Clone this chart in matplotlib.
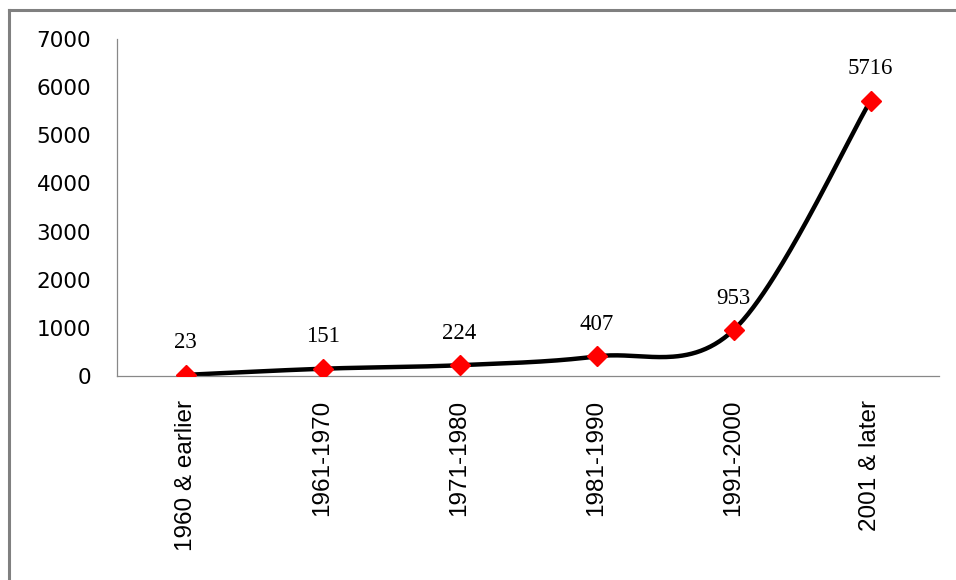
import numpy as np
import matplotlib
matplotlib.use("Agg")
import matplotlib.pyplot as plt
from matplotlib.lines import Line2D

categories = ["1960 & earlier", "1961-1970", "1971-1980", "1981-1990", "1991-2000", "2001 & later"]
values = [23, 151, 224, 407, 953, 5716]
yticks = [0, 1000, 2000, 3000, 4000, 5000, 6000, 7000]


def smooth_curve(xs, ys, n=60):
    pts = np.column_stack([xs, ys]).astype(float)
    out = []
    for i in range(len(pts) - 1):
        p0 = pts[max(i - 1, 0)]
        p1 = pts[i]
        p2 = pts[i + 1]
        p3 = pts[min(i + 2, len(pts) - 1)]
        c1 = p1 + (p2 - p0) / 6.0
        c2 = p2 - (p3 - p1) / 6.0
        t = np.linspace(0, 1, n)[:, None]
        seg = (1 - t) ** 3 * p1 + 3 * (1 - t) ** 2 * t * c1 + 3 * (1 - t) * t ** 2 * c2 + t ** 3 * p2
        out.append(seg if i == 0 else seg[1:])
    return np.vstack(out)


fig = plt.figure(figsize=(9.56, 5.8), dpi=100)
ax = fig.add_axes([117 / 956, 204 / 580, 822 / 956, 337 / 580])

x = np.arange(len(values))
curve = smooth_curve(x, values)
ax.plot(curve[:, 0], curve[:, 1], color="black", lw=3.2, solid_capstyle="round", zorder=2)
ax.plot(x, values, linestyle="none", marker="D", markersize=10.5, color="#ff0000",
        markeredgecolor="#ff0000", zorder=3)

for xi, v in zip(x, values):
    ax.annotate(str(v), (xi, v), xytext=(0, 23), textcoords="offset points",
                ha="center", va="center", family="Liberation Serif", fontsize=16.5)

ax.set_xlim(-0.5, len(values) - 0.5)
ax.set_ylim(0, 7000)
ax.set_yticks(yticks)
ax.set_yticklabels([str(t) for t in yticks], family="DejaVu Sans", fontsize=15.5)
ax.set_xticks(x)
ax.set_xticklabels(categories, rotation=90, family="Liberation Sans", fontsize=17.5,
                   va="top", ha="center")
ax.tick_params(axis="both", length=0)
ax.tick_params(axis="y", pad=18.5)
ax.tick_params(axis="x", pad=17)

for side in ["top", "right"]:
    ax.spines[side].set_visible(False)
for side in ["left", "bottom"]:
    ax.spines[side].set_color("#888888")
    ax.spines[side].set_linewidth(0.9)

# outer border (top and left edges visible)
fig.add_artist(Line2D([8.5 / 956, 1.0], [1 - 9.5 / 580, 1 - 9.5 / 580],
                      transform=fig.transFigure, color="#808080", lw=2.2))
fig.add_artist(Line2D([8.5 / 956, 8.5 / 956], [0.0, 1 - 9.5 / 580],
                      transform=fig.transFigure, color="#808080", lw=2.2))

fig.savefig("out.png", dpi=100, facecolor="white")
